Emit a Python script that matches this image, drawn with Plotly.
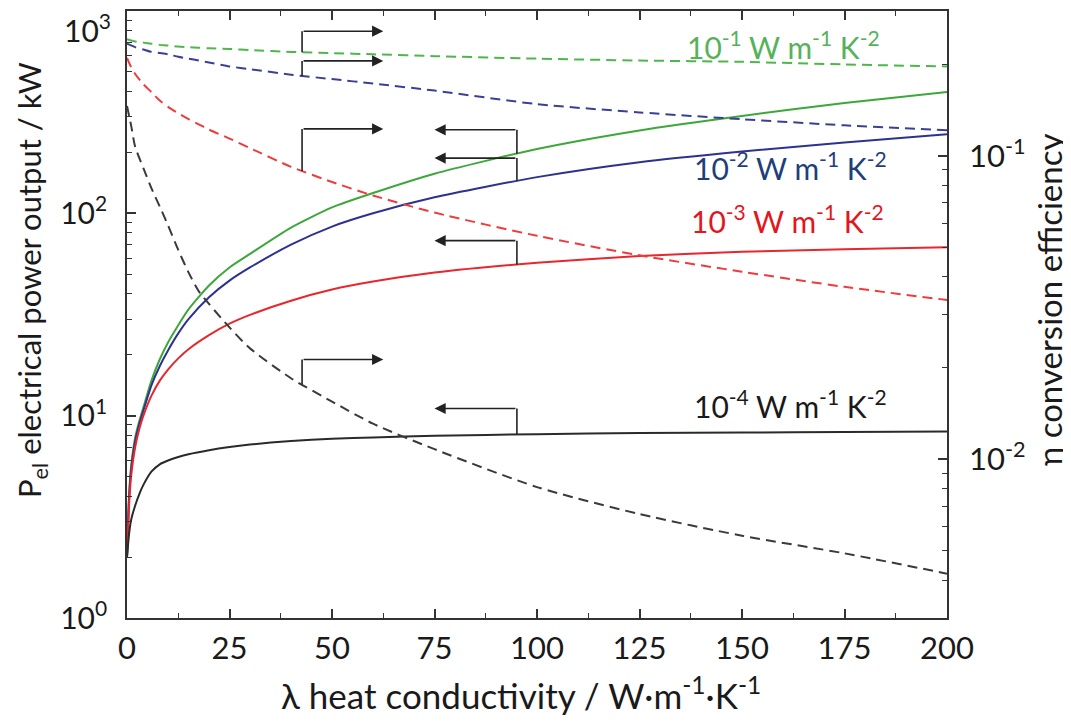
import numpy as np
import plotly.graph_objects as go

# ---------------- data ----------------
lam_p = [0, 0.5, 1, 2, 3, 4, 6, 8, 10, 12.5, 15, 20, 25, 30, 40, 50, 60, 75, 100, 125, 150, 175, 200]
p_e1 = [2.0, 4.0, 5.6, 7.8, 9.4, 11.0, 15.0, 19.0, 23, 28, 33.5, 44, 54, 63, 85, 107, 126, 157, 208, 257, 303, 351, 398]
p_e2 = [2.0, 3.9, 5.4, 7.5, 9.1, 10.6, 14.2, 17.6, 21, 25.5, 30, 38.5, 46.5, 54, 70, 86, 100, 120, 151, 179, 202, 224, 246]
p_e3 = [2.0, 3.6, 5.0, 7.0, 8.6, 10.0, 12.6, 14.9, 16.9, 19.2, 21.3, 25.0, 28.5, 31.5, 37, 42, 46, 51, 57, 61.5, 64.5, 66.5, 68]
p_e4 = [2.0, 2.6, 3.05, 3.6, 4.1, 4.55, 5.3, 5.75, 6.0, 6.25, 6.45, 6.75, 7.0, 7.2, 7.5, 7.7, 7.8, 7.95, 8.1, 8.2, 8.25, 8.3, 8.35]

lam_eta = [0, 1, 2, 4, 6, 8, 10, 12.5, 15, 17.5, 20, 25, 30, 40, 50, 60, 75, 100, 125, 150, 175, 200]
eta_e1 = [0.242, 0.240, 0.238, 0.236, 0.234, 0.232, 0.231, 0.229, 0.228, 0.227, 0.226, 0.225, 0.223, 0.220, 0.218, 0.216, 0.213, 0.209, 0.206, 0.204, 0.200, 0.197]
eta_e2 = [0.234, 0.231, 0.228, 0.224, 0.220, 0.218, 0.216, 0.212, 0.209, 0.206, 0.203, 0.197, 0.193, 0.185, 0.179, 0.173, 0.164, 0.148, 0.139, 0.132, 0.126, 0.1215]
eta_e3 = [0.21, 0.196, 0.186, 0.172, 0.162, 0.152, 0.145, 0.138, 0.132, 0.127, 0.122, 0.114, 0.106, 0.092, 0.082, 0.074, 0.065, 0.0545, 0.047, 0.0415, 0.037, 0.0335]
eta_e4 = [0.146, 0.126, 0.107, 0.091, 0.078, 0.068, 0.059, 0.049, 0.0413, 0.0358, 0.0325, 0.0272, 0.0232, 0.0185, 0.0155, 0.0131, 0.0108, 0.0081, 0.0066, 0.0056, 0.0049, 0.0042]

series_names = ["10<sup>-1</sup> W m<sup>-1</sup> K<sup>-2</sup>",
                "10<sup>-2</sup> W m<sup>-1</sup> K<sup>-2</sup>",
                "10<sup>-3</sup> W m<sup>-1</sup> K<sup>-2</sup>",
                "10<sup>-4</sup> W m<sup>-1</sup> K<sup>-2</sup>"]

x_ticks = [0, 25, 50, 75, 100, 125, 150, 175, 200]
y1_tickvals = [1, 10, 100, 1000]
y1_ticktext = ["10<sup>0</sup>", "10<sup>1</sup>", "10<sup>2</sup>", "10<sup>3</sup>"]
y1_minor = [m * 10 ** e for e in range(3) for m in range(2, 10)]
y2_tickvals = [0.01, 0.1]
y2_ticktext = ["10<sup>-2</sup>", "10<sup>-1</sup>"]
y2_minor = [m * 10 ** e for e in (-3, -2, -1) for m in range(2, 10)]

x_title = "λ heat conductivity / W·m<sup>-1</sup>·K<sup>-1</sup>"
y1_title = "P<sub>el</sub> electrical power output / kW"
y2_title = "η conversion efficiency"

# ---------------- styling ----------------
W, H = 1071, 722
OFF = 8                     # page body margin in the screenshot
SL, ST = 127, 11            # plot-area top-left on screen
PW, PH = 820, 607
ML, MT = SL - OFF, ST - OFF
MR = W - ML - PW
MB = H - MT - PH
Y1R = [0, 3]
Y2R = [np.log10(0.003), np.log10(0.3)]

line_cols = ["#3da73a", "#2d3190", "#e8262c", "#2a2a2a"]
dash_cols = ["#4db848", "#3a3f98", "#ee3b3b", "#3a3a3a"]
text_cols = ["#56b25a", "#1f3f7a", "#e3161d", "#1a1a1a"]
FONT = "Lato, 'Open Sans', sans-serif"
AX = "#333333"
TXT = "#1a1a1a"

P = [p_e1, p_e2, p_e3, p_e4]
E = [eta_e1, eta_e2, eta_e3, eta_e4]

fig = go.Figure()
for i in range(4):
    fig.add_trace(go.Scatter(x=lam_eta, y=E[i], yaxis="y2", mode="lines",
                             line=dict(color=dash_cols[i], width=2, dash="10px,6px", shape="spline", smoothing=0.7),
                             showlegend=False, hoverinfo="skip"))
for i in range(4):
    fig.add_trace(go.Scatter(x=lam_p, y=P[i], mode="lines",
                             line=dict(color=line_cols[i], width=2, shape="spline", smoothing=0.6),
                             showlegend=False, hoverinfo="skip"))


def paper_y(val, rng):
    return (np.log10(val) - rng[0]) / (rng[1] - rng[0])


def curve_at(xs, ys, x0):
    return 10 ** np.interp(x0, xs, np.log10(ys))


def px_to_paper(px, py):
    return (px - SL) / PW, 1 - (py - ST) / PH


# elbow arrows: (series index, axis, stem lambda, head lambda, rise in px)
arrows = [
    (0, "eta", 42.7, 62.5, 21), (1, "eta", 42.7, 62.5, 15),
    (2, "eta", 42.7, 62.5, 42), (3, "eta", 42.7, 62.5, 25),
    (0, "p", 95.1, 75.0, 24), (1, "p", 95.1, 75.0, 23),
    (2, "p", 95.1, 75.0, 24), (3, "p", 95.1, 75.0, 26),
]
shapes = []
annotations = []
acol = "#222222"
for idx, ax_kind, xs, xh, rise in arrows:
    if ax_kind == "eta":
        v = curve_at(lam_eta, E[idx], xs)
        y0 = paper_y(v, Y2R)
    else:
        v = curve_at(lam_p, P[idx], xs)
        y0 = paper_y(v, Y1R)
    y1 = y0 + rise / PH
    shapes.append(dict(type="line", xref="x", yref="paper", x0=xs, x1=xs, y0=y0, y1=y1,
                       line=dict(color=acol, width=1.6)))
    annotations.append(dict(x=xh, y=y1, xref="x", yref="paper", ax=xs, ay=0,
                            axref="x", ayref="pixel", text="", showarrow=True,
                            arrowhead=2, arrowsize=1.4, arrowwidth=1.6, arrowcolor=acol))

# series labels (pixel centres in reference)
label_pos = [(783, 45), (790, 166), (787, 219), (790, 404)]
for i, (px, py) in enumerate(label_pos):
    xp, yp = px_to_paper(px, py)
    annotations.append(dict(x=xp, y=yp, xref="paper", yref="paper",
                            yanchor="middle", xanchor="center", showarrow=False,
                            text=series_names[i], font=dict(family=FONT, size=30, color=text_cols[i])))

# top-most left tick label (sits just below the top frame in the reference)
tx, ty = px_to_paper(113, 28)
annotations.append(dict(x=tx, y=ty, xref="paper", yref="paper", xanchor="right", yanchor="middle",
                        showarrow=False, text=y1_ticktext[3], font=dict(family=FONT, size=30, color=TXT)))

# axis titles
tx, ty = px_to_paper(521, 693)
annotations.append(dict(x=tx, y=ty, xref="paper", yref="paper", xanchor="center", yanchor="middle",
                        showarrow=False, text=x_title, font=dict(family=FONT, size=35, color=TXT)))
tx, ty = px_to_paper(31, 280)
annotations.append(dict(x=tx, y=ty, xref="paper", yref="paper", xanchor="center", yanchor="middle",
                        showarrow=False, textangle=-90, text=y1_title, font=dict(family=FONT, size=31, color=TXT)))
tx, ty = px_to_paper(1049, 300)
annotations.append(dict(x=tx, y=ty, xref="paper", yref="paper", xanchor="center", yanchor="middle",
                        showarrow=False, textangle=-90, text=y2_title, font=dict(family=FONT, size=33, color=TXT)))

fig.update_layout(
    width=W, height=H,
    margin=dict(l=ML, r=MR, t=MT, b=MB, autoexpand=False),
    paper_bgcolor="white", plot_bgcolor="white",
    font=dict(family=FONT, color=TXT),
    showlegend=False,
    shapes=shapes,
    annotations=annotations,
    xaxis=dict(range=[0, 200], tickvals=x_ticks, ticks="inside", ticklen=9, tickwidth=1.5,
               tickcolor=AX, minor=dict(tickvals=[12.5 + 25 * k for k in range(8)], ticks="inside",
                                        ticklen=5, tickwidth=1.3, tickcolor=AX),
               showline=True, linecolor=AX, linewidth=1.6, mirror="ticks", automargin=False,
               showgrid=False, zeroline=False, tickfont=dict(size=31, family=FONT), ticklabelstandoff=2),
    yaxis=dict(type="log", range=Y1R, tickvals=y1_tickvals[:3], ticktext=y1_ticktext[:3], ticks="inside",
               ticklen=9, tickwidth=1.5, tickcolor=AX,
               minor=dict(tickvals=y1_minor, ticks="inside", ticklen=5, tickwidth=1.3, tickcolor=AX, showgrid=False),
               showline=True, linecolor=AX, linewidth=1.6, showgrid=False, zeroline=False, automargin=False,
               tickfont=dict(size=30, family=FONT), ticklabelstandoff=12),
    yaxis2=dict(type="log", range=Y2R, overlaying="y", side="right", tickvals=y2_tickvals, ticktext=y2_ticktext,
                ticks="inside", ticklen=9, tickwidth=1.5, tickcolor=AX,
                minor=dict(tickvals=y2_minor, ticks="inside", ticklen=5, tickwidth=1.3, tickcolor=AX, showgrid=False),
                showline=True, linecolor=AX, linewidth=1.6, showgrid=False, zeroline=False, automargin=False,
                tickfont=dict(size=31, family=FONT), ticklabelstandoff=14),
)

fig.write_html("out.html")
